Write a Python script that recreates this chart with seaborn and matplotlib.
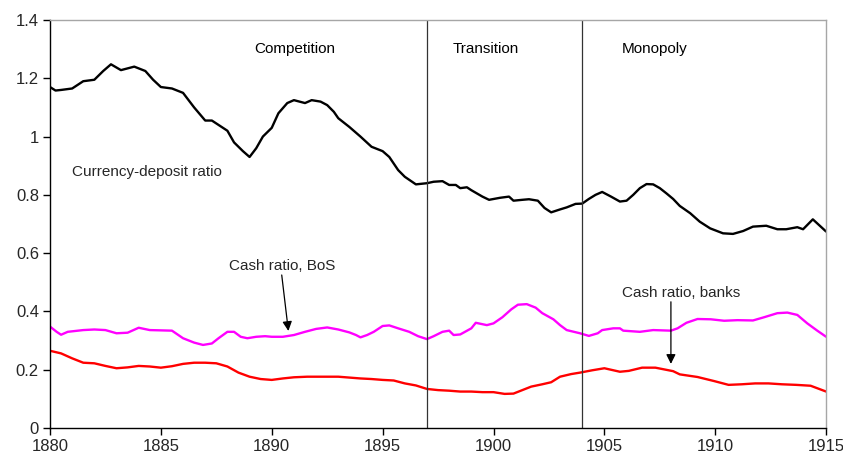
import pandas as pd
import seaborn as sns
import matplotlib.pyplot as plt

# currency-deposit ratio (black)
cd_years = [1880, 1880.25, 1880.5, 1881, 1881.5, 1882, 1882.4, 1882.75, 1883.2, 1883.8,
            1884.3, 1884.65, 1885, 1885.5, 1886, 1886.5, 1887, 1887.3, 1887.6, 1888,
            1888.3, 1888.7, 1889, 1889.3, 1889.6, 1890, 1890.3, 1890.7, 1891, 1891.5,
            1891.8, 1892.2, 1892.5, 1892.8, 1893, 1893.5, 1894, 1894.5, 1895, 1895.3,
            1895.7, 1896, 1896.5, 1897, 1897.3, 1897.7, 1898, 1898.3, 1898.5, 1898.8,
            1899, 1899.5, 1899.8, 1900.3, 1900.7, 1900.9, 1901.3, 1901.6, 1902, 1902.3,
            1902.6, 1903, 1903.3, 1903.7, 1904, 1904.3, 1904.6, 1904.9, 1905.3, 1905.7,
            1906, 1906.3, 1906.6, 1906.9, 1907.2, 1907.5, 1907.8, 1908.1, 1908.4, 1908.87,
            1909.3, 1909.77, 1910.35, 1910.8, 1911.26, 1911.7, 1912.3, 1912.8, 1913.2, 1913.7,
            1913.96, 1914.4, 1915]
cd_vals = [1.17, 1.158, 1.16, 1.165, 1.19, 1.195, 1.225, 1.248, 1.228, 1.24,
           1.225, 1.195, 1.17, 1.165, 1.15, 1.10, 1.055, 1.055, 1.04, 1.02,
           0.98, 0.95, 0.93, 0.96, 1.00, 1.03, 1.08, 1.115, 1.125, 1.115,
           1.125, 1.12, 1.108, 1.085, 1.063, 1.033, 1.0, 0.965, 0.95, 0.93,
           0.885, 0.862, 0.836, 0.84, 0.845, 0.847, 0.834, 0.834, 0.823, 0.826,
           0.816, 0.794, 0.783, 0.79, 0.794, 0.78, 0.783, 0.785, 0.78, 0.755,
           0.74, 0.75, 0.757, 0.769, 0.77, 0.786, 0.80, 0.81, 0.794, 0.777,
           0.78, 0.80, 0.823, 0.837, 0.836, 0.823, 0.805, 0.786, 0.762, 0.737,
           0.708, 0.685, 0.668, 0.666, 0.676, 0.691, 0.694, 0.682, 0.682, 0.689,
           0.682, 0.716, 0.674]

# cash ratio, Bank of Spain (magenta)
bos_years = [1880, 1880.3, 1880.5, 1880.8, 1881.5, 1882, 1882.5, 1883, 1883.5, 1884,
             1884.5, 1885, 1885.5, 1886, 1886.5, 1886.9, 1887.3, 1887.6, 1888, 1888.3,
             1888.6, 1888.9, 1889.3, 1889.7, 1890, 1890.5, 1891, 1891.5, 1892, 1892.5,
             1893, 1893.5, 1893.8, 1894, 1894.3, 1894.6, 1895, 1895.3, 1895.7, 1896.2,
             1896.6, 1897, 1897.3, 1897.7, 1898, 1898.2, 1898.5, 1899, 1899.2, 1899.7,
             1900, 1900.4, 1900.8, 1901.1, 1901.5, 1901.9, 1902.2, 1902.7, 1903, 1903.3,
             1903.9, 1904.3, 1904.7, 1904.9, 1905.4, 1905.7, 1905.85, 1906.6, 1907.2, 1908,
             1908.3, 1908.7, 1909.2, 1909.8, 1910.4, 1911, 1911.7, 1912.2, 1912.8, 1913.25,
             1913.7, 1914.15, 1914.6, 1915]
bos_vals = [0.348, 0.33, 0.32, 0.33, 0.336, 0.338, 0.336, 0.325, 0.327, 0.344,
            0.336, 0.335, 0.334, 0.308, 0.293, 0.285, 0.29, 0.308, 0.33, 0.33,
            0.313, 0.308, 0.313, 0.315, 0.313, 0.313, 0.319, 0.33, 0.34, 0.345,
            0.338, 0.328, 0.319, 0.311, 0.319, 0.33, 0.35, 0.352, 0.342, 0.33,
            0.315, 0.305, 0.315, 0.33, 0.334, 0.319, 0.321, 0.342, 0.361, 0.353,
            0.359, 0.38, 0.407, 0.423, 0.425, 0.413, 0.394, 0.373, 0.353, 0.336,
            0.325, 0.316, 0.325, 0.336, 0.342, 0.342, 0.334, 0.33, 0.336, 0.334,
            0.342, 0.361, 0.374, 0.373, 0.368, 0.37, 0.369, 0.38, 0.394, 0.396,
            0.388, 0.359, 0.334, 0.313]

# cash ratio, banks (red)
bk_years = [1880, 1880.5, 1881, 1881.5, 1882, 1882.5, 1883, 1883.5, 1884, 1884.5,
            1885, 1885.5, 1886, 1886.5, 1887, 1887.5, 1888, 1888.5, 1889, 1889.5,
            1890, 1890.5, 1891, 1891.6, 1892.5, 1893, 1893.5, 1894, 1894.5, 1895,
            1895.5, 1896, 1896.5, 1897, 1897.5, 1898, 1898.5, 1899, 1899.5, 1900,
            1900.5, 1900.9, 1901.3, 1901.7, 1902.2, 1902.6, 1903, 1903.5, 1903.9, 1904.45,
            1905, 1905.7, 1906.1, 1906.7, 1907.3, 1908.1, 1908.4, 1909.2, 1909.95, 1910.6,
            1911.2, 1911.8, 1912.4, 1913, 1913.65, 1914.3, 1915]
bk_vals = [0.265, 0.256, 0.239, 0.224, 0.222, 0.213, 0.205, 0.208, 0.213, 0.211,
           0.207, 0.212, 0.22, 0.224, 0.224, 0.222, 0.211, 0.19, 0.176, 0.168,
           0.165, 0.17, 0.174, 0.176, 0.176, 0.176, 0.173, 0.17, 0.168, 0.165,
           0.163, 0.153, 0.146, 0.134, 0.13, 0.128, 0.125, 0.125, 0.123, 0.123,
           0.117, 0.118, 0.13, 0.142, 0.15, 0.157, 0.176, 0.185, 0.19, 0.198,
           0.205, 0.193, 0.196, 0.207, 0.207, 0.195, 0.184, 0.175, 0.161, 0.148,
           0.15, 0.153, 0.153, 0.15, 0.148, 0.145, 0.125]

period_breaks = [1897, 1904]
period_labels = ["Competition", "Transition", "Monopoly"]
period_label_x = [1891.05, 1899.67, 1907.25]
x_ticks = [1880, 1885, 1890, 1895, 1900, 1905, 1910, 1915]
y_ticks = [0, 0.2, 0.4, 0.6, 0.8, 1.0, 1.2, 1.4]
y_tick_labels = ["0", "0.2", "0.4", "0.6", "0.8", "1", "1.2", "1.4"]

sns.set_theme(style="white")
plt.rcParams["font.family"] = ["Liberation Sans", "DejaVu Sans"]

fig = plt.figure(figsize=(8.43, 4.61), dpi=100)
ax = fig.add_axes([0.0593, 0.0716, 0.9207, 0.885])

sns.lineplot(x=cd_years, y=cd_vals, color="black", linewidth=1.7, ax=ax)
sns.lineplot(x=bos_years, y=bos_vals, color="#ff00ff", linewidth=1.7, ax=ax)
sns.lineplot(x=bk_years, y=bk_vals, color="#ff0000", linewidth=1.7, ax=ax)

for b in period_breaks:
    ax.axvline(b, color="#333333", linewidth=0.9)

for lbl, xp in zip(period_labels, period_label_x):
    ax.text(xp, 1.30, lbl, ha="center", va="center", fontsize=11, color="black")

ax.text(1880.98, 0.88, "Currency-deposit ratio", ha="left", va="center", fontsize=11)

arrow_kw = dict(arrowstyle="-|>", color="black", lw=0.9, mutation_scale=14,
                shrinkA=0, shrinkB=0)
ax.text(1890.45, 0.555, "Cash ratio, BoS", ha="center", va="center", fontsize=11)
ax.annotate("", xy=(1890.75, 0.333), xytext=(1890.45, 0.525), arrowprops=arrow_kw)
ax.text(1908.45, 0.463, "Cash ratio, banks", ha="center", va="center", fontsize=11)
ax.annotate("", xy=(1908.0, 0.22), xytext=(1908.0, 0.433), arrowprops=arrow_kw)

ax.set_xlim(1880, 1915)
ax.set_ylim(0, 1.4)
ax.set_xticks(x_ticks)
ax.set_yticks(y_ticks)
ax.set_yticklabels(y_tick_labels)
ax.tick_params(axis="both", labelsize=12, direction="out", length=5, width=1,
               color="black", left=True, bottom=True, pad=3)
for side in ["left", "bottom"]:
    ax.spines[side].set_color("black")
    ax.spines[side].set_linewidth(1.0)
for side in ["top", "right"]:
    ax.spines[side].set_color("#a6a6a6")
    ax.spines[side].set_linewidth(1.0)
ax.set_xlabel("")
ax.set_ylabel("")

plt.savefig("out.png", dpi=100)
